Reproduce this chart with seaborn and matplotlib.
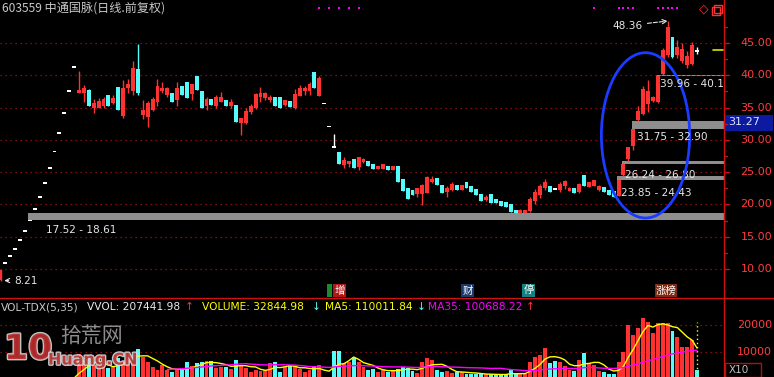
import numpy as np
import pandas as pd
import matplotlib
matplotlib.use("Agg")
import matplotlib.pyplot as plt
import matplotlib.patheffects as pe
from matplotlib.patches import Ellipse, Rectangle
import seaborn as sns

# 日K数据 (前复权), 数值
# IPO + 一字涨停
opens = [8.24, 10.88, 11.97, 13.16, 14.48, 15.93, 17.52, 19.27, 21.20, 23.32, 25.65, 28.21, 31.03, 34.14, 37.55, 41.31]
highs = [9.89, 10.88, 11.97, 13.16, 14.48, 15.93, 17.52, 19.27, 21.20, 23.32, 25.65, 28.21, 31.03, 34.14, 37.55, 41.31]
lows = [8.21, 10.88, 11.97, 13.16, 14.48, 15.93, 17.52, 19.27, 21.20, 23.32, 25.65, 28.21, 31.03, 34.14, 37.55, 41.31]
closes = [9.89, 10.88, 11.97, 13.16, 14.48, 15.93, 17.52, 19.27, 21.20, 23.32, 25.65, 28.21, 31.03, 34.14, 37.55, 41.31]

# 开板以后 (O, H, L, C)
ohlc = [
    (37.2, 40.7, 37.2, 37.7), (37.2, 38.5, 35.9, 38.1), (37.7, 37.8, 35.2, 35.3), (34.95, 36.4, 34.1, 35.67),
    (34.9, 36.5, 34.9, 36.0), (35.3, 36.6, 35.0, 36.4), (36.9, 37.0, 35.3, 35.3), (35.7, 36.9, 35.6, 36.5),
    (38.2, 38.2, 34.7, 34.7), (33.7, 39.2, 33.4, 38.1), (38.0, 39.5, 37.3, 38.7), (37.5, 42.2, 36.9, 41.2),
    (40.9, 44.9, 37.0, 37.2), (33.9, 36.1, 33.2, 34.6), (33.6, 36.0, 32.0, 35.7), (34.6, 36.7, 34.5, 36.4),
    (35.9, 39.4, 35.2, 38.3), (37.6, 39.0, 37.2, 38.0), (37.0, 38.2, 36.7, 38.0), (37.3, 37.3, 35.9, 35.9),
    (36.2, 39.0, 35.2, 38.0), (38.3, 38.3, 36.9, 36.9), (39.0, 39.0, 36.5, 36.5), (37.1, 38.7, 36.1, 38.6),
    (39.9, 39.9, 37.7, 37.7), (37.6, 37.6, 34.9, 34.9),
    (35.3, 36.6, 34.6, 36.3), (36.4, 36.4, 35.4, 35.4), (35.3, 37.0, 34.9, 36.6), (35.8, 37.4, 35.8, 36.6),
    (36.2, 36.2, 35.3, 35.3), (35.3, 36.3, 35.0, 35.8), (35.4, 35.4, 32.8, 32.8), (32.6, 33.4, 30.7, 33.4),
    (32.6, 35.0, 32.4, 34.5), (34.3, 35.6, 34.0, 35.3), (34.9, 37.2, 34.8, 37.1), (36.6, 38.2, 35.9, 37.2),
    (36.5, 37.4, 36.1, 37.2), (36.2, 36.9, 35.9, 36.7), (36.7, 36.7, 35.3, 35.3), (36.7, 36.7, 34.9, 34.9),
    (35.4, 36.2, 35.3, 36.1), (36.0, 36.0, 35.1, 35.1), (35.0, 37.8, 34.8, 37.1), (36.8, 38.5, 36.8, 38.0),
    (37.6, 38.4, 37.0, 38.0), (37.6, 39.0, 37.0, 38.6), (40.5, 40.5, 38.1, 38.1), (36.8, 39.9, 36.8, 39.6),
    (35.64, 35.64, 35.64, 35.64), (32.08, 32.08, 32.08, 32.08), (28.87, 30.9, 28.87, 28.87),
    (28.1, 28.1, 26.3, 26.3), (26.1, 27.4, 25.7, 26.9), (26.3, 26.8, 25.8, 26.7), (27.0, 27.0, 25.7, 25.7),
    (25.8, 27.4, 25.4, 27.3), (26.6, 27.2, 26.4, 27.1), (26.8, 26.8, 26.0, 26.0), (26.2, 26.2, 25.5, 25.5),
    (25.5, 25.9, 25.5, 25.9), (25.5, 26.2, 25.5, 26.2), (26.0, 26.0, 25.4, 25.4), (25.4, 25.9, 25.4, 25.9),
    (25.9, 25.9, 23.5, 23.5), (24.0, 24.0, 22.1, 22.1), (22.5, 22.5, 20.9, 20.9), (22.2, 22.2, 21.5, 21.5),
    (21.6, 22.6, 21.2, 22.5), (21.6, 23.2, 19.9, 23.0), (21.8, 24.4, 21.7, 24.3), (23.5, 24.4, 23.3, 24.0),
    (24.1, 24.1, 23.0, 23.0), (23.0, 23.0, 21.7, 21.7), (22.0, 22.8, 21.2, 22.5), (22.3, 23.4, 22.1, 23.2),
    (23.0, 23.0, 22.2, 22.2), (22.3, 23.0, 22.3, 23.0), (23.4, 23.4, 22.5, 22.5),
    (22.8, 22.8, 21.9, 21.9), (22.4, 22.4, 21.4, 21.4), (21.6, 21.6, 20.5, 20.5), (20.7, 21.4, 20.5, 21.2),
    (21.6, 21.6, 20.2, 20.2), (20.9, 20.9, 20.2, 20.2), (20.5, 20.5, 19.8, 19.8), (20.3, 20.3, 19.6, 19.6),
    (20.1, 20.1, 18.9, 18.9), (19.1, 19.1, 18.61, 18.7), (18.62, 19.3, 18.61, 19.1), (18.7, 19.2, 18.7, 19.2),
    (19.0, 21.1, 18.9, 20.9), (20.5, 22.4, 20.0, 21.9), (21.4, 23.2, 21.0, 22.8), (22.6, 23.9, 22.3, 23.5),
    (22.8, 22.8, 21.9, 21.9), (22.4, 22.4, 22.4, 22.4), (22.3, 23.4, 21.9, 23.1), (22.8, 23.8, 22.4, 23.7),
    (22.1, 22.7, 22.1, 22.6), (22.5, 22.5, 21.8, 21.8), (21.9, 23.3, 21.8, 23.1), (24.6, 24.6, 22.8, 22.8),
    (22.7, 23.5, 22.7, 23.5), (22.8, 23.8, 22.8, 23.8), (22.3, 23.0, 22.1, 22.8), (22.7, 22.7, 21.9, 21.9),
    (22.3, 22.3, 21.5, 21.5), (22.1, 22.1, 21.2, 21.2),
    (21.3, 23.85, 21.3, 23.85), (24.5, 26.24, 24.43, 26.24), (27.0, 28.87, 26.80, 28.87), (29.0, 31.75, 28.5, 31.75),
    (33.0, 35.2, 32.9, 34.5), (34.0, 38.3, 33.8, 37.8), (35.5, 39.3, 34.3, 37.5), (36.0, 36.8, 35.8, 36.6),
    (35.9, 39.96, 35.7, 39.9), (40.2, 44.2, 40.12, 43.9), (43.1, 48.36, 42.8, 47.5), (45.9, 45.9, 42.7, 42.8),
    (43.1, 45.5, 42.7, 44.4), (42.2, 45.0, 41.9, 44.0), (41.6, 43.8, 41.2, 43.0), (41.8, 45.2, 41.6, 44.7),
    (43.8, 44.4, 43.3, 43.8),
]
for o, h, l, c in ohlc:
    opens.append(o); highs.append(h); lows.append(l); closes.append(c)

# 成交量 (x10)
volume = [300, 20, 20, 20, 20, 20, 20, 20, 30, 30, 40, 50, 60, 80, 100, 200,
          9000, 7000, 7600, 5000, 4200, 4500, 3900, 4200, 7600, 6300, 8800, 8000, 11000, 8100, 6300, 4100,
          3100, 5000, 3200, 2500, 3400, 3000, 6300, 4500, 5800, 6300,
          6700, 6700, 3900, 4200, 4200, 3600, 7000, 5000, 3900, 2500, 3000, 2700, 3000, 5700, 6300, 2500,
          4300, 5000, 4600, 3500, 2500, 3000, 4600, 5000, 400, 600, 10300,
          10300, 5800, 6000, 7600, 6000, 4200, 3000, 3500, 2500, 3000, 2500, 3000, 3500, 4200, 4000, 2600,
          2000, 6300, 7600, 7000, 3000, 2500, 2600, 2000, 2500, 2500, 1800,
          1800, 1500, 1500, 1500, 1500, 1500, 1300, 1500, 3000, 1500, 1500, 1500, 6300, 8100, 8800, 11400,
          5700, 6700, 6300, 4800, 3100, 2800, 7000, 9500, 5700, 5000, 2700, 2500, 1800, 1800,
          6300, 10000, 20000, 16200, 18900, 22700, 21200, 17100, 20600, 20600, 20600, 17900, 15400, 11900,
          11900, 14400, 3284]

# 缺口
gap_low = [17.52, 23.85, 26.24, 31.75, 39.96]
gap_high = [18.61, 24.43, 26.80, 32.90, 40.12]
gap_start = [6, 126, 127, 129, 134]
gap_text = ["17.52 - 18.61", "23.85 - 24.43", "26.24 - 26.80", "31.75 - 32.90", "39.96 - 40.1"]

price_ticks = [45, 40, 35, 30, 25, 20, 15, 10]
vol_ticks = [20000, 10000]

df = pd.DataFrame({"o": opens, "h": highs, "l": lows, "c": closes, "v": volume})
df["i"] = np.arange(len(df))
df["ma5"] = df["v"].rolling(5).mean()
df["ma35"] = df["v"].rolling(35).mean()

sns.set_theme(style="dark", rc={"axes.facecolor": "black", "figure.facecolor": "black"})
plt.rcParams["font.family"] = ["Noto Sans CJK SC", "DejaVu Sans"]

W, H = 774, 377
fig = plt.figure(figsize=(W / 100, H / 100), dpi=100)
fig.patch.set_facecolor("black")


def fx(x):
    return x / W


def fy(y):
    return 1 - y / H


AXR = 724
ax = fig.add_axes([0, fy(298), fx(AXR), 298 / H])
axv = fig.add_axes([0, 0, fx(AXR), 79 / H])
for a in (ax, axv):
    a.set_facecolor("black")
    a.set_xlim(-0.106, 147.5)
    a.set_xticks([])
    a.set_yticks([])
    for s in a.spines.values():
        s.set_visible(False)
ax.set_ylim(5.51, 51.66)
axv.set_ylim(524, 30112)

RED = "#ff3232"
CYAN = "#54fcfc"
GRID = "#b01010"

for p in price_ticks:
    ax.axhline(p, color=GRID, lw=0.9, ls=(0, (1, 3)))
for v in vol_ticks:
    axv.axhline(v, color=GRID, lw=0.9, ls=(0, (1, 3)))

# gap bands
for lo, hi, st, txt in zip(gap_low, gap_high, gap_start, gap_text):
    ax.add_patch(Rectangle((st - 0.3, lo), 200, max(hi - lo, 0.15), facecolor="#8e8e8e",
                           edgecolor="none", zorder=1))

# candles
up_col = []
for i, r in df.iterrows():
    if r.c > r.o:
        col = RED
    elif r.c < r.o:
        col = CYAN
    else:
        col = "white"
    up_col.append(col)
    ax.vlines(r.i, r.l, r.h, color=col, lw=1.0, zorder=3)
    bh = max(abs(r.c - r.o), 0.28)
    ax.bar(r.i, bh, bottom=min(r.o, r.c) - (0.14 if r.c == r.o else 0), width=0.8,
           color=col, linewidth=0, zorder=3)

# volume
vcol = [RED if c == RED else CYAN for c in up_col]
axv.bar(df["i"], df["v"], width=0.8, color=vcol, linewidth=0, zorder=2)
sns.lineplot(data=df, x="i", y="ma5", ax=axv, color="#ffff00", lw=1.0, zorder=4)
sns.lineplot(data=df, x="i", y="ma35", ax=axv, color="#ff00ff", lw=1.0, zorder=4)
axv.axvline(df["i"].iloc[-1], ymax=0.7, color="#ffff00", lw=1, ls=(0, (1, 2)))
axv.set_xlabel("")
axv.set_ylabel("")

# ellipse
ax.add_patch(Ellipse((131.5, 30.7), 18.0, 25.6, fill=False, edgecolor="#1a3cff", lw=2, zorder=5))

# magenta markers at top
mk = [65, 67, 69, 71, 73, 121, 126, 127, 128, 129, 134, 135, 136, 137, 138]
ax.scatter(mk, [50.4] * len(mk), marker="s", s=4, color="#ff00ff", linewidths=0, zorder=5)

txtc = "#e6e6e6"
ax.text(9.2, 16.0, gap_text[0], color=txtc, fontsize=7.6, va="center", family="DejaVu Sans")
ax.text(126.5, 21.7, gap_text[1], color=txtc, fontsize=7.6, va="center", family="DejaVu Sans")
ax.text(127.3, 24.6, gap_text[2], color=txtc, fontsize=7.6, va="center", family="DejaVu Sans")
ax.text(129.8, 30.4, gap_text[3], color=txtc, fontsize=7.6, va="center", family="DejaVu Sans", zorder=6)
ax.text(134.5, 38.7, gap_text[4], color=txtc, fontsize=7.6, va="center", family="DejaVu Sans",
        clip_on=True, zorder=6)
ax.annotate("8.21", xy=(0.2, 8.21), xytext=(2.9, 8.21), color=txtc, fontsize=7.6, va="center",
            family="DejaVu Sans", arrowprops=dict(arrowstyle="->", color=txtc, lw=0.8))
ax.annotate("48.36", xy=(136, 48.4), xytext=(124.8, 47.7), color=txtc, fontsize=7.6, va="center",
            family="DejaVu Sans",
            arrowprops=dict(arrowstyle="->", color=txtc, lw=0.8, ls="--", shrinkA=1, shrinkB=0))

# title
fig.text(fx(2), fy(8), "603559 中通国脉(日线.前复权)", color="#c8c8c8", fontsize=8.7, va="center")

# right axis
fig.add_artist(plt.Line2D([fx(AXR), fx(AXR)], [0, 1], color="#d01010", lw=1))
fig.add_artist(plt.Line2D([0, 1], [fy(298), fy(298)], color="#d01010", lw=1))
for p in price_ticks:
    yy = 43 + (45 - p) * 6.457
    fig.text(fx(772), fy(yy), f"{p:.2f}", color="#ff3c3c", fontsize=8, ha="right", va="center",
             family="DejaVu Sans")
    fig.add_artist(plt.Line2D([fx(AXR), fx(AXR + 5)], [fy(yy), fy(yy)], color="#d01010", lw=1))
for p in np.arange(12.5, 50, 5):
    yy = 43 + (45 - p) * 6.457
    fig.add_artist(plt.Line2D([fx(AXR), fx(AXR + 3)], [fy(yy), fy(yy)], color="#d01010", lw=1))
for v in vol_ticks:
    yy = 378.4 - v / 10000 * 26.7
    fig.text(fx(772), fy(yy), f"{v}", color="#ff3c3c", fontsize=8, ha="right", va="center",
             family="DejaVu Sans")

fig.patches.append(Rectangle((fx(725), fy(131)), fx(48), 16 / H, transform=fig.transFigure,
                             facecolor="#0c1aa0", edgecolor="none"))
fig.text(fx(728), fy(122.5), "31.27", color="#dfe4ff", fontsize=8, va="center", family="DejaVu Sans")
fig.patches.append(Rectangle((fx(725), 0), fx(36), 14 / H, transform=fig.transFigure,
                             facecolor="black", edgecolor="#b01010", lw=1))
fig.text(fx(729), fy(370), "X10", color="#c0c0c0", fontsize=7.5, va="center", family="DejaVu Sans")
fig.add_artist(plt.Line2D([fx(713), fx(723)], [fy(50), fy(50)], color="#e0e000", lw=1.2))

# top right icons
fig.text(fx(704), fy(9), "◇", color="#ff3030", fontsize=9, ha="center", va="center", family="DejaVu Sans")
fig.patches.append(Rectangle((fx(712), fy(15)), fx(8), 8 / H, transform=fig.transFigure,
                             facecolor="none", edgecolor="#ff3030", lw=1))
fig.patches.append(Rectangle((fx(714), fy(13)), fx(8), 8 / H, transform=fig.transFigure,
                             facecolor="none", edgecolor="#ff3030", lw=1))

# event tags
tags = [(333, "增", "#b01818"), (461, "财", "#1c3a6a"), (522, "停", "#14807f"), (655, "涨榜", "#7a2a12")]
for x0, t, c in tags:
    wd = 13 if len(t) == 1 else 22
    fig.patches.append(Rectangle((fx(x0), fy(297)), fx(wd), 13 / H, transform=fig.transFigure,
                                 facecolor=c, edgecolor="none"))
    fig.text(fx(x0 + wd / 2), fy(290.5), t, color="white", fontsize=7.5, ha="center", va="center")
fig.patches.append(Rectangle((fx(327), fy(297)), fx(5), 13 / H, transform=fig.transFigure,
                             facecolor="#1c8a2a", edgecolor="none"))

# volume legend
vy = fy(307)
leg = [(1, "VOL-TDX(5,35)", "#c8c8c8"), (87, "VVOL: 207441.98", "#e8e8e8"), (185, "↑", RED),
       (202, "VOLUME: 32844.98", "#ffff00"), (312, "↓", CYAN), (325, "MA5: 110011.84", "#ffff00"),
       (417, "↓", CYAN), (428, "MA35: 100688.22", "#ff00ff"), (526, "↑", RED)]
for x0, t, c in leg:
    fig.text(fx(x0), vy, t, color=c, fontsize=7.7, va="center", family="DejaVu Sans")

# watermark
stroke = [pe.withStroke(linewidth=2, foreground="#d8d8d8")]
fig.text(fx(4), fy(349), "10", color="#b02828", fontsize=25, fontweight="bold", va="center",
         family="DejaVu Sans", path_effects=stroke, alpha=0.9)
fig.text(fx(60), fy(336), "拾荒网", color="#9c9c9c", fontsize=15, va="center", alpha=0.9)
fig.text(fx(48), fy(360), "Huang.CN", color="#b83030", fontsize=11.5, fontweight="bold", va="center",
         family="DejaVu Sans", path_effects=stroke, alpha=0.9)

fig.savefig("out.png", dpi=100, facecolor="black")
